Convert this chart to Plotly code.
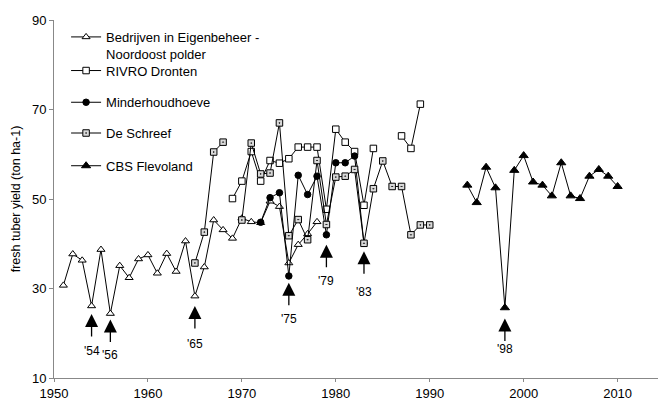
import plotly.graph_objects as go

# Fresh tuber yields (ton ha-1) per source and year
bedrijven_years = list(range(1951, 1979))
bedrijven = [30.7, 37.7, 36.3, 26.1, 38.7, 24.4, 35.1, 32.4, 36.6, 37.5,
             33.4, 37.8, 33.8, 40.6, 28.3, 34.8, 45.3, 43.1, 41.2, 45.7,
             44.9, 44.7, 49.5, 48.3, 35.7, 39.8, 42.2, 44.9]

rivro_years = list(range(1969, 1990))
rivro = [50.1, 54.0, 60.6, 54.0, 58.6, 58.0, 59.0, 61.6, 61.6, 61.6,
         47.7, 65.6, 62.7, 60.6, 48.6, 61.3, None, None, 64.1, 61.3, 71.2]

minder_years = list(range(1972, 1984))
minder = [44.8, 50.3, 51.4, 32.8, 55.3, 51.0, 55.1, 42.0, 58.1, 58.1, 59.6, 40.1]

schreef_years = list(range(1965, 1991))
schreef = [35.7, 42.6, 60.5, 62.7, None, 45.3, 62.5, 55.6, 55.8, 67.0,
           41.8, 45.4, 40.9, 58.6, 44.3, 54.9, 55.1, 56.6, 40.1, 52.3,
           58.5, 52.8, 52.8, 42.0, 44.2, 44.2]

cbs_years = list(range(1994, 2011))
cbs = [53.1, 49.2, 57.1, 52.5, 25.7, 56.4, 59.7, 53.8, 53.1, 50.7,
       58.1, 50.7, 50.1, 55.1, 56.6, 55.1, 52.8]

# Years with poor harvests, marked by arrows
event_years = [1954, 1956, 1965, 1975, 1979, 1983, 1998]
event_labels = ["'54", "'56", "'65", "'75", "'79", "'83", "'98"]
event_tip = [24.3, 23.1, 26.1, 31.3, 39.8, 38.3, 23.3]
event_label_y = [16.0, 15.1, 17.5, 23.1, 31.7, 29.2, 16.4]

FONT = "Liberation Sans, Arial, sans-serif"

series = [
    ("Bedrijven in Eigenbeheer -<br>Noordoost polder", bedrijven_years, bedrijven,
     dict(symbol="triangle-up", size=7, color="white", line=dict(color="black", width=1))),
    ("RIVRO Dronten", rivro_years, rivro,
     dict(symbol="square", size=6.5, color="white", line=dict(color="black", width=1))),
    ("Minderhoudhoeve", minder_years, minder,
     dict(symbol="circle", size=6.5, color="black", line=dict(color="black", width=1))),
    ("De Schreef", schreef_years, schreef,
     dict(symbol="square-dot", size=6.5, color="#d9d9d9", line=dict(color="black", width=1))),
    ("CBS Flevoland", cbs_years, cbs,
     dict(symbol="triangle-up", size=8, color="black", line=dict(color="black", width=1))),
]

# one legend box per series so each entry can sit at its own height
legend_ids = ["legend", "legend2", "legend3", "legend4", "legend5"]
legend_y = [0.9945, 0.8587, 0.7701, 0.6842, 0.5928]
legend_anchor = ["top", "middle", "middle", "middle", "middle"]

fig = go.Figure()
for (name, xs, ys, marker), lid in zip(series, legend_ids):
    fig.add_trace(go.Scatter(
        x=xs, y=ys, name=name, mode="lines+markers",
        line=dict(color="black", width=1), marker=marker,
        connectgaps=False, legend=lid,
    ))

for yr, lab, tip, ly in zip(event_years, event_labels, event_tip, event_label_y):
    fig.add_annotation(x=yr, y=tip, ax=0, ay=24, text="", showarrow=True,
                       arrowhead=2, arrowsize=2.0, arrowwidth=1.3,
                       arrowcolor="black", standoff=0)
    fig.add_annotation(x=yr, y=ly, text=lab, showarrow=False,
                       font=dict(family=FONT, size=12, color="black"))

legend_layout = {}
for lid, ly, anc in zip(legend_ids, legend_y, legend_anchor):
    legend_layout[lid] = dict(
        x=0.02, y=ly, xanchor="left", yanchor=anc, valign="top",
        bgcolor="rgba(0,0,0,0)", itemwidth=30,
        font=dict(family=FONT, size=13, color="black"),
    )

fig.update_layout(
    width=662, height=405,
    margin=dict(l=54, r=4, t=20, b=24),
    paper_bgcolor="white", plot_bgcolor="white",
    font=dict(family=FONT, size=13, color="black"),
    showlegend=True,
    xaxis=dict(range=[1950, 2014.3], tickvals=[1950, 1960, 1970, 1980, 1990, 2000, 2010],
               showgrid=False, zeroline=False, showline=True, linecolor="#888888",
               linewidth=1, ticks="outside", ticklen=3, tickcolor="#888888",
               tickfont=dict(family=FONT, size=13, color="black")),
    yaxis=dict(range=[10, 90], tickvals=[10, 30, 50, 70, 90],
               showgrid=False, zeroline=False, showline=True, linecolor="#888888",
               linewidth=1, ticks="outside", ticklen=4, tickcolor="#888888",
               tickfont=dict(family=FONT, size=13, color="black"),
               title=dict(text="fresh tuber yield (ton ha-1)", standoff=8,
                          font=dict(family=FONT, size=12.5, color="black"))),
    **legend_layout,
)

fig.write_html("out.html")
